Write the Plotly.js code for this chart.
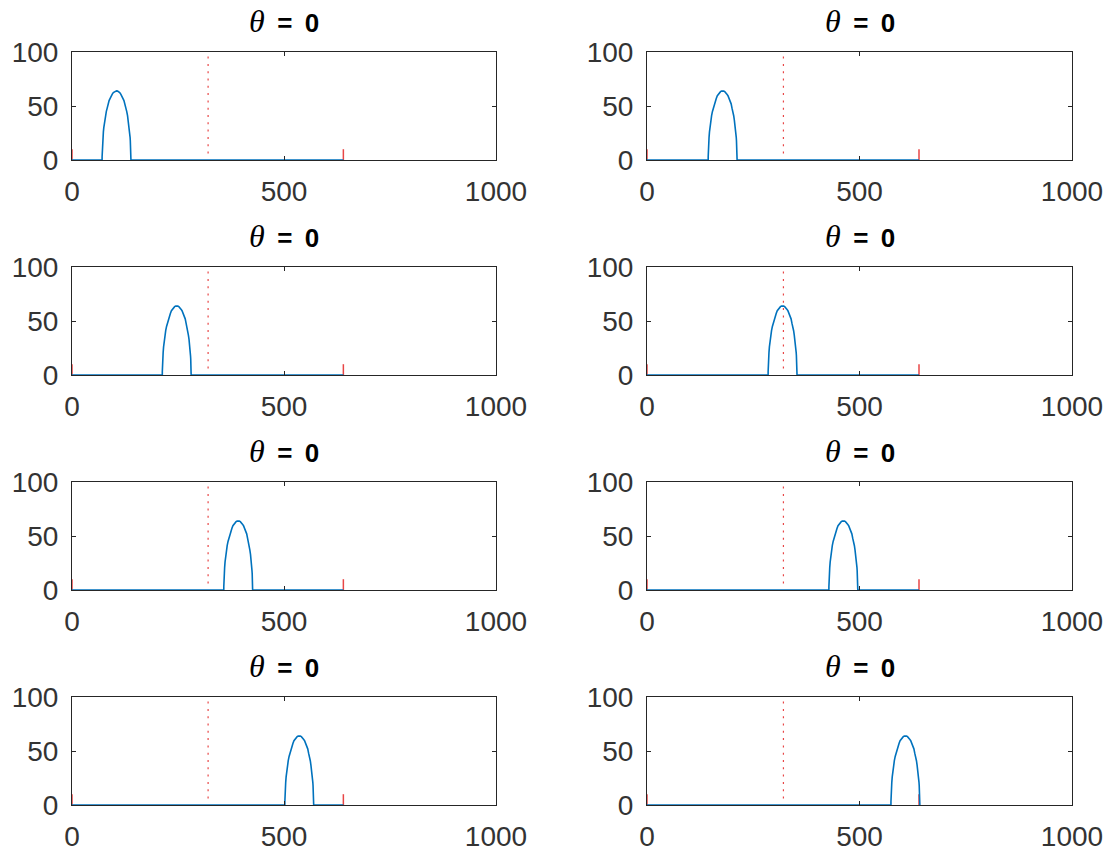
<!DOCTYPE html>
<html>
<head>
<meta charset="utf-8">
<script src="https://cdn.plot.ly/plotly-3.0.1.min.js"></script>
<style>html,body{margin:0;padding:0;background:#fff;}#chart{width:1113px;height:855px;}</style>
</head>
<body>
<div id="chart"></div>
<script>
// ---- data ----
const titleSymbol = ["θ","θ","θ","θ","θ","θ","θ","θ"];
const titleValue  = ["0","0","0","0","0","0","0","0"];
const humpCenters = [105, 178, 247, 319, 392, 462, 536, 608];   // centre of the blue hump in each panel
const humpDx = [-34, -34, -33.9, -33.7, -33.4, -33, -32.5, -32, -31, -30, -29, -27.5, -26, -24, -22, -20, -17.5, -15, -12.5, -10, -7.5, -5, -2.5, 0,
                 2.5, 5, 7.5, 10, 12.5, 15, 17.5, 20, 22, 24, 26, 27.5, 29, 30, 31, 32, 32.5, 33, 33.4, 33.7, 33.9, 34, 34]; // hump profile offsets
const humpY  = [0, 3, 5, 9, 12, 15, 18, 21, 26, 30, 33, 37, 41, 45, 48, 52, 55, 57, 59.5, 61, 62.5, 63.3, 63.8, 64,
                 63.8, 63.3, 62.5, 61, 59.5, 57, 55, 52, 48, 45, 41, 37, 33, 30, 26, 21, 18, 15, 12, 9, 5, 3, 0];          // hump profile heights
const lineStart = 0, lineEnd = 640;        // extent of the blue baseline
const markerX = [0, 640];                  // short red solid marks
const markerH = [0, 10];
const dottedX = 321;                       // red dotted vertical line
const dottedY = [6, 100];
const xTicks = [0, 500, 1000];
const yTicks = [0, 50, 100];

// ---- layout geometry ----
const W = 1113, H = 855;
const colPx = [[72, 496], [647, 1072]];
const rowPx = [[52, 160], [267, 375], [482, 590], [697, 805]];
const axColor = '#262626';
const tickTextColor = '#333333';
const red = 'rgb(232,70,70)';
const blue = '#0072BD';

const traces = [];
const layout = {
  width: W, height: H,
  margin: {l: 0, r: 0, t: 0, b: 0},
  paper_bgcolor: '#fff', plot_bgcolor: '#fff',
  showlegend: false,
  font: {family: 'Liberation Sans, Arial, sans-serif', color: axColor},
  annotations: []
};

for (let i = 0; i < 8; i++) {
  const r = Math.floor(i / 2), c = i % 2;
  const sfx = i === 0 ? '' : String(i + 1);
  const xa = 'x' + sfx, ya = 'y' + sfx;
  const xd = [colPx[c][0] / W, colPx[c][1] / W];
  const yd = [1 - rowPx[r][1] / H, 1 - rowPx[r][0] / H];

  // red dotted line
  traces.push({x: [dottedX, dottedX], y: dottedY, xaxis: xa, yaxis: ya, mode: 'lines',
    line: {color: red, width: 1.2, dash: '2px,5.3px'}, hoverinfo: 'skip'});
  // red solid marks
  markerX.forEach(mx => traces.push({x: [mx, mx], y: markerH, xaxis: xa, yaxis: ya, mode: 'lines',
    line: {color: red, width: 1.5}, hoverinfo: 'skip'}));
  // blue curve
  const cx = humpCenters[i];
  const xs = [lineStart].concat(humpDx.map(d => cx + d), [lineEnd]);
  const ys = [0].concat(humpY, [0]);
  traces.push({x: xs, y: ys, xaxis: xa, yaxis: ya, mode: 'lines',
    line: {color: blue, width: 1.6}, hoverinfo: 'skip'});

  const common = {showgrid: false, zeroline: false, showline: true, mirror: 'ticks',
    linecolor: axColor, linewidth: 1, ticks: 'inside', ticklen: 4, tickcolor: axColor, tickwidth: 1,
    tickfont: {size: 28, color: tickTextColor, family: 'Liberation Sans, Arial, sans-serif'}, fixedrange: true};
  layout['xaxis' + sfx] = Object.assign({}, common, {domain: xd, anchor: ya, range: [0, 1000],
    tickmode: 'array', tickvals: xTicks, ticktext: xTicks.map(String), ticklabelstandoff: 6});
  layout['yaxis' + sfx] = Object.assign({}, common, {domain: yd, anchor: xa, range: [0, 100],
    tickmode: 'array', tickvals: yTicks, ticktext: yTicks.map(String), ticklabelstandoff: 7});

  layout.annotations.push({
    xref: 'paper', yref: 'paper', x: (xd[0] + xd[1]) / 2, y: yd[1], xanchor: 'center', yanchor: 'bottom',
    yshift: 11, showarrow: false,
    text: '<span style="font-family:\'Liberation Serif\',serif;font-style:italic;font-size:32px">' + titleSymbol[i] +
          '</span><b>\u00a0\u2009=\u00a0\u2009' + titleValue[i] + '</b>',
    font: {size: 26, color: '#000', family: 'Liberation Sans, Arial, sans-serif'}
  });
}

Plotly.newPlot('chart', traces, layout, {staticPlot: true, displayModeBar: false});
</script>
</body>
</html>
